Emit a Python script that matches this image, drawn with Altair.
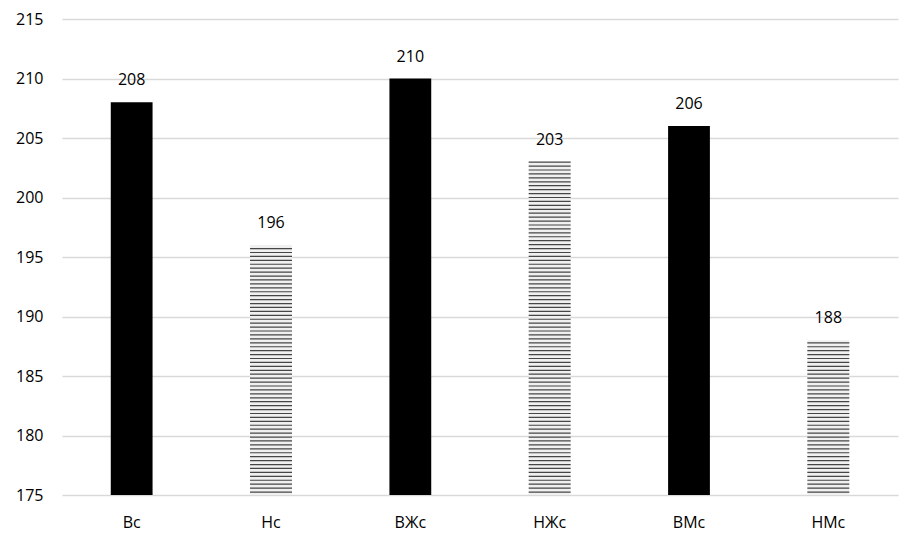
import altair as alt
import pandas as pd

categories = ["Вс", "Нс", "ВЖс", "НЖс", "ВМс", "НМс"]
values = [208, 196, 210, 203, 206, 188]
styles = ["solid", "hatch", "solid", "hatch", "solid", "hatch"]

df = pd.DataFrame({"cat": categories, "value": values, "style": styles})

FONT = "Open Sans"

x = alt.X("cat:N", sort=categories, title=None,
          scale=alt.Scale(paddingInner=0.7, paddingOuter=0.35),
          axis=alt.Axis(labelAngle=0, labelFontSize=16, labelColor="#000", labelFont=FONT,
                        domain=False, ticks=False, labelPadding=19))
y = alt.Y("value:Q", title=None,
          scale=alt.Scale(domain=[175, 215], nice=False, zero=False),
          axis=alt.Axis(values=list(range(175, 216, 5)), labelFontSize=16, labelColor="#000",
                        labelFont=FONT, domain=False, ticks=False, labelPadding=19,
                        grid=True, gridColor="#d9d9d9", gridWidth=1.3))

base = alt.Chart(df)

bars = base.mark_bar(clip=True).encode(
    x=x, y=y, y2=alt.datum(175),
    color=alt.Color("style:N", scale=alt.Scale(domain=["solid", "hatch"], range=["#000000", "#f0f0f0"]), legend=None),
)

hatch = base.transform_filter("datum.style == 'hatch'").transform_calculate(
    line="sequence(175.25, datum.value, 0.33)"
).transform_flatten(["line"]).mark_tick(color="#333333", thickness=1.2, size=42, opacity=0.9).encode(
    x=alt.X("cat:N", sort=categories),
    y=alt.Y("line:Q"),
)

labels = base.mark_text(dy=-22, fontSize=16, font=FONT, color="#000").encode(
    x=alt.X("cat:N", sort=categories), y=alt.Y("value:Q"), text="value:Q"
)

chart = alt.layer(bars, hatch, labels).properties(
    width=836, height=476,
    padding={"left": 54, "top": 11, "right": 10, "bottom": 40},
    autosize=alt.AutoSizeParams(type="none"),
).configure_view(stroke=None)

chart.save("out.html", embed_options={"renderer": "svg", "actions": False})
